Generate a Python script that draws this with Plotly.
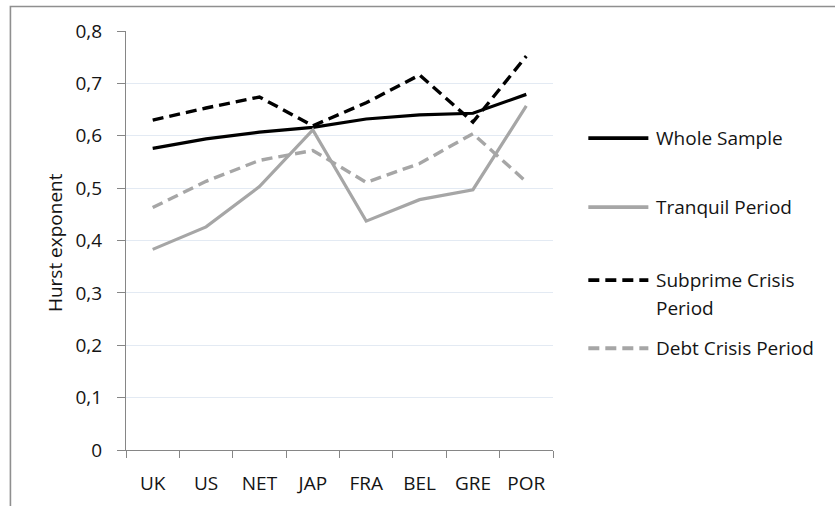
import plotly.graph_objects as go

# Hurst exponents by market and sample period
countries = ["UK", "US", "NET", "JAP", "FRA", "BEL", "GRE", "POR"]
whole_sample = [0.576, 0.594, 0.607, 0.616, 0.632, 0.640, 0.643, 0.679]
tranquil = [0.383, 0.426, 0.503, 0.611, 0.437, 0.478, 0.497, 0.657]
subprime = [0.630, 0.653, 0.674, 0.619, 0.663, 0.716, 0.626, 0.752]
debt = [0.463, 0.513, 0.553, 0.572, 0.511, 0.547, 0.604, 0.512]

y_tick_vals = [0, 0.1, 0.2, 0.3, 0.4, 0.5, 0.6, 0.7, 0.8]
y_tick_text = ["0", "0,1", "0,2", "0,3", "0,4", "0,5", "0,6", "0,7", "0,8"]

series_names = ["Whole Sample", "Tranquil Period", "Subprime Crisis Period", "Debt Crisis Period"]

FONT = "Open Sans"
FS = 19
TXT = "#141414"
AXIS = "#868686"
GRID = "#e3eaf3"
BLACK = "#000000"
GREY = "#a6a6a6"
DASH = "11px,6px"

# plot area in pixels
W_PX, H_PX = 835, 506
L, R, T, B = 126, 552.7, 31, 449.7


def px_x(p):
    return (p - L) / (R - L)


def px_y(p):
    return (B - p) / (B - T)


styles = [
    dict(color=BLACK, width=3.2, dash="solid"),
    dict(color=GREY, width=3.2, dash="solid"),
    dict(color=BLACK, width=3.4, dash=DASH),
    dict(color=GREY, width=3.4, dash=DASH),
]

fig = go.Figure()
for name, vals, st in zip(series_names, [whole_sample, tranquil, subprime, debt], styles):
    fig.add_trace(go.Scatter(
        x=countries, y=vals, mode="lines", name=name,
        line=dict(color=st["color"], width=st["width"], dash=st["dash"]),
        showlegend=False,
    ))

shapes = []
annotations = []

# outer frame (top and left edges)
shapes.append(dict(
    type="path", xref="paper", yref="paper",
    path=f"M {px_x(10.5)},{px_y(506)} L {px_x(10.5)},{px_y(6.5)} L {px_x(835)},{px_y(6.5)}",
    line=dict(color="#8f8f8f", width=1.6),
))

# legend samples and labels
legend_rows = [
    (138, ["Whole Sample"]),
    (207, ["Tranquil Period"]),
    (280, ["Subprime Crisis", "Period"]),
    (348, ["Debt Crisis Period"]),
]
for (ypix, lines), st in zip(legend_rows, styles):
    shapes.append(dict(
        type="line", xref="paper", yref="paper",
        x0=px_x(588), x1=px_x(648), y0=px_y(ypix), y1=px_y(ypix),
        line=dict(color=st["color"], width=st["width"] + 0.4, dash=st["dash"]),
    ))
    for i, line_text in enumerate(lines):
        annotations.append(dict(
            xref="paper", yref="paper", x=px_x(654), y=px_y(ypix + 28 * i),
            xanchor="left", yanchor="middle", text=line_text, showarrow=False,
            font=dict(family=FONT, size=FS, color=TXT),
        ))

# y-axis title
annotations.append(dict(
    xref="paper", yref="paper", x=px_x(55), y=px_y(242),
    xanchor="center", yanchor="middle", text="Hurst exponent", textangle=-90,
    showarrow=False, font=dict(family=FONT, size=FS, color=TXT),
))

fig.update_layout(
    width=W_PX, height=H_PX,
    margin=dict(l=L, r=W_PX - R, t=T, b=H_PX - B, pad=0, autoexpand=False),
    paper_bgcolor="white", plot_bgcolor="white",
    font=dict(family=FONT, size=FS, color=TXT),
    shapes=shapes, annotations=annotations,
    xaxis=dict(
        type="category", categoryorder="array", categoryarray=countries,
        range=[-0.5, len(countries) - 0.5], automargin=False,
        showline=True, linecolor=AXIS, linewidth=1.3,
        ticks="outside", tickson="boundaries", ticklen=7, tickcolor=AXIS, tickwidth=1.3,
        showgrid=False, zeroline=False, ticklabelstandoff=16,
        tickfont=dict(family=FONT, size=FS, color=TXT),
    ),
    yaxis=dict(
        range=[0, 0.8], tickvals=y_tick_vals, ticktext=y_tick_text, automargin=False,
        showline=True, linecolor=AXIS, linewidth=1.3,
        ticks="outside", ticklen=8, tickcolor=AXIS, tickwidth=1.3,
        showgrid=True, gridcolor=GRID, gridwidth=1.3, zeroline=False,
        ticklabelstandoff=11,
        tickfont=dict(family=FONT, size=FS, color=TXT),
    ),
)

fig.write_html("out.html")
